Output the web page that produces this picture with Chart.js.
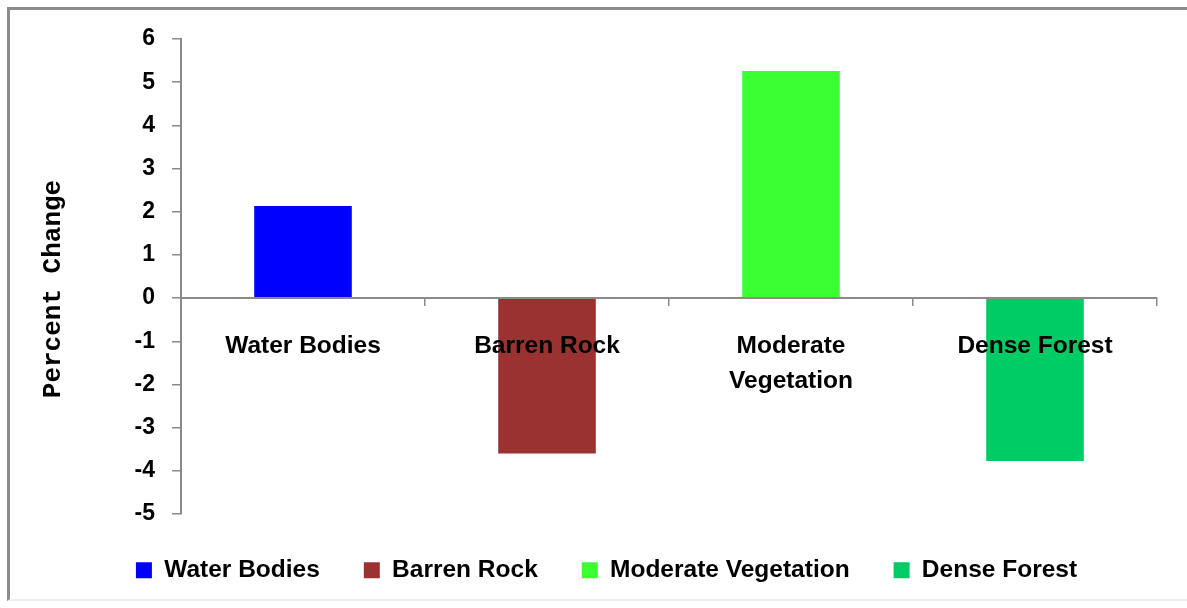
<!DOCTYPE html>
<html>
<head>
<meta charset="utf-8">
<title>Percent Change by Land Cover Class</title>
<script src="https://cdn.jsdelivr.net/npm/chart.js@4.4.1/dist/chart.umd.min.js"></script>
<style>
  html, body { margin: 0; padding: 0; background: #ffffff; }
  #wrap { position: relative; width: 1187px; height: 608px; overflow: hidden; }
  #frame {
    position: absolute; left: 7px; top: 7px; right: -10px; bottom: 7px;
    border-top: 3px solid #8c8c8c;
    border-left: 3px solid #8c8c8c;
    border-bottom: 2px solid #eeeeee;
  }
  #chart { position: absolute; left: 0; top: 0; }
</style>
</head>
<body>
<div id="wrap">
  <div id="frame"></div>
  <canvas id="chart" width="1187" height="608"></canvas>
</div>
<script>
// Land cover classes and their percent change
const categories = ['Water Bodies', 'Barren Rock', 'Moderate Vegetation', 'Dense Forest'];
const tickLabels = ['Water Bodies', 'Barren Rock', ['Moderate', 'Vegetation'], 'Dense Forest'];
const changeValues = [2.13, -3.6, 5.26, -3.77];
const classColors = ['#0000FF', '#9A3232', '#3CFF33', '#00CC66'];
const yTicks = [-5, -4, -3, -2, -1, 0, 1, 2, 3, 4, 5, 6];
const yTitle = 'Percent Change';

const labelFont = { family: '"Liberation Sans", Arial, sans-serif', weight: 'bold', size: 24.5 };

// one dataset per class so every class gets its own legend entry
const datasets = categories.map((name, i) => ({
  label: name,
  data: changeValues.map((v, j) => (j === i ? v : null)),
  backgroundColor: classColors[i],
  borderWidth: 0,
  barPercentage: 0.4,
  categoryPercentage: 1.0,
  grouped: false
}));

// rotated title beside the value axis
const yTitlePlugin = {
  id: 'yTitle',
  afterDraw(chart) {
    const ctx = chart.ctx;
    ctx.save();
    ctx.translate(53, 289);
    ctx.rotate(-Math.PI / 2);
    ctx.font = 'bold 26px "Liberation Mono", "Courier New", monospace';
    ctx.fillStyle = '#000000';
    ctx.textAlign = 'center';
    ctx.textBaseline = 'middle';
    ctx.fillText(yTitle, 0, 0);
    ctx.restore();
  }
};

new Chart(document.getElementById('chart'), {
  type: 'bar',
  data: { labels: tickLabels, datasets },
  plugins: [yTitlePlugin],
  options: {
    responsive: false,
    animation: false,
    layout: { padding: { left: 56, right: 30, top: 39, bottom: 15.5 } },
    plugins: {
      tooltip: { enabled: false },
      legend: {
        position: 'bottom',
        align: 'center',
        labels: {
          font: labelFont,
          color: '#000000',
          boxWidth: 16,
          boxHeight: 16,
          padding: 44
        }
      }
    },
    scales: {
      x: {
        position: { y: 0 },
        offset: true,
        grid: {
          offset: true,
          drawOnChartArea: false,
          drawTicks: true,
          tickLength: 7,
          color: '#8a8a8a',
          lineWidth: 1.5,
          z: 1
        },
        border: { display: true, color: '#8a8a8a', width: 2, z: 1 },
        ticks: {
          font: { ...labelFont, lineHeight: 1.42 },
          color: '#000000',
          padding: 24,
          maxRotation: 0,
          autoSkip: false,
          z: 1
        }
      },
      y: {
        min: -5,
        max: 6,
        afterFit(scale) { scale.width = 125; },
        afterBuildTicks(scale) { scale.ticks = yTicks.map(v => ({ value: v })); },
        grid: {
          drawOnChartArea: false,
          drawTicks: true,
          tickLength: 9,
          color: '#8a8a8a',
          lineWidth: 1.5
        },
        border: { display: true, color: '#8a8a8a', width: 2 },
        ticks: {
          font: { family: '"Liberation Sans", Arial, sans-serif', weight: 'bold', size: 23 },
          color: '#000000',
          padding: 17
        }
      }
    }
  }
});
</script>
</body>
</html>
